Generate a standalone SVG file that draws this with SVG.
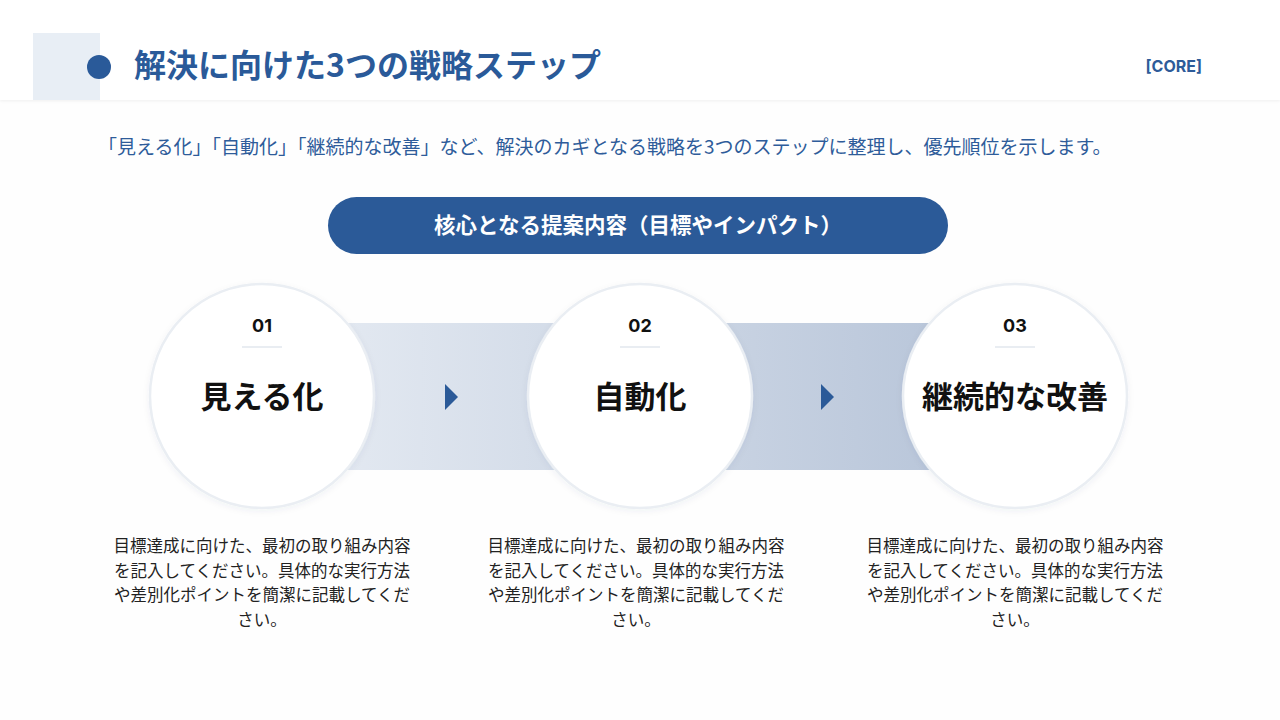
<svg xmlns="http://www.w3.org/2000/svg" width="1280" height="720" viewBox="0 0 1280 720">
  <defs>
    <linearGradient id="band" x1="0" y1="0" x2="1" y2="0">
      <stop offset="0" stop-color="#e8edf4"/>
      <stop offset="1" stop-color="#b4c2d7"/>
    </linearGradient>
    <filter id="sh" x="-20%" y="-20%" width="140%" height="140%">
      <feDropShadow dx="0" dy="2" stdDeviation="3" flood-color="#1e3a5f" flood-opacity="0.06"/>
    </filter>
    <filter id="hsh" x="-5%" y="-50%" width="110%" height="200%">
      <feDropShadow dx="0" dy="1" stdDeviation="1.5" flood-color="#000" flood-opacity="0.06"/>
    </filter>
    <style>
      .jp { font-family: "Noto Sans CJK JP", "Noto Sans", sans-serif; }
      .title { font-size: 32px; font-weight: 700; fill: #2a5a99; }
      .sub { font-size: 19px; fill: #2e5c9a; }
      .pilltxt { font-size: 21.5px; font-weight: 700; fill: #ffffff; }
      .circ { fill: #ffffff; stroke: #eaeef3; stroke-width: 2.5; }
      .num { font-family: Inter, "Noto Sans", sans-serif; font-size: 18px; font-weight: 700; fill: #111111; }
      .sep { stroke: #e9edf2; stroke-width: 2; }
      .name { font-size: 31px; font-weight: 700; fill: #111111; }
      .desc { font-size: 16.5px; fill: #222222; }
      .arrow { fill: #2b5a98; }
    </style>
  </defs>

  <rect x="0" y="0" width="1280" height="720" fill="#fefefe"/>

  <g id="header">
    <rect x="0" y="0" width="1280" height="100" fill="#ffffff" filter="url(#hsh)"/>
    <rect x="33" y="33" width="67" height="67" fill="#e8eef5"/>
    <circle cx="99" cy="67" r="12" fill="#2a5a99"/>
    <text class="jp title" x="134" y="77">解決に向けた3つの戦略ステップ</text>
    <text x="1202" y="72" text-anchor="end" font-family="Inter, 'Liberation Sans', sans-serif" font-size="16" font-weight="700" fill="#2d5b99">[CORE]</text>
  </g>

  <g id="subtitle">
    <text class="jp sub" x="98" y="154">「見える化」「自動化」「継続的な改善」など、解決のカギとなる戦略を3つのステップに整理し、優先順位を示します。</text>
  </g>

  <g id="core-pill">
    <rect x="328" y="197" width="620" height="57" rx="28.5" fill="#2b5a98"/>
    <text class="jp pilltxt" x="638" y="233" text-anchor="middle">核心となる提案内容（目標やインパクト）</text>
  </g>

  <g id="connectors">
    <rect x="262" y="323" width="753" height="147" fill="url(#band)"/>
    <path class="arrow" d="M445,384 L458,397 L445,410 Z"/>
    <path class="arrow" d="M821,384 L834,397 L821,410 Z"/>
  </g>

  <g id="step1">
    <circle class="circ" cx="262" cy="396" r="112" filter="url(#sh)"/>
    <text class="num" x="262" y="332" text-anchor="middle">01</text>
    <line class="sep" x1="242" y1="347" x2="282" y2="347"/>
    <text class="jp name" x="262" y="408" text-anchor="middle">見える化</text>
    <g class="jp desc" text-anchor="middle">
      <text x="262" y="552">目標達成に向けた、最初の取り組み内容</text>
      <text x="262" y="577">を記入してください。具体的な実行方法</text>
      <text x="262" y="601">や差別化ポイントを簡潔に記載してくだ</text>
      <text x="262" y="626">さい。</text>
    </g>
  </g>

  <g id="step2">
    <circle class="circ" cx="640" cy="396" r="112" filter="url(#sh)"/>
    <text class="num" x="640" y="332" text-anchor="middle">02</text>
    <line class="sep" x1="620" y1="347" x2="660" y2="347"/>
    <text class="jp name" x="640" y="408" text-anchor="middle">自動化</text>
    <g class="jp desc" text-anchor="middle">
      <text x="636" y="552">目標達成に向けた、最初の取り組み内容</text>
      <text x="636" y="577">を記入してください。具体的な実行方法</text>
      <text x="636" y="601">や差別化ポイントを簡潔に記載してくだ</text>
      <text x="636" y="626">さい。</text>
    </g>
  </g>

  <g id="step3">
    <circle class="circ" cx="1015" cy="396" r="112" filter="url(#sh)"/>
    <text class="num" x="1015" y="332" text-anchor="middle">03</text>
    <line class="sep" x1="995" y1="347" x2="1035" y2="347"/>
    <text class="jp name" x="1015" y="408" text-anchor="middle">継続的な改善</text>
    <g class="jp desc" text-anchor="middle">
      <text x="1015" y="552">目標達成に向けた、最初の取り組み内容</text>
      <text x="1015" y="577">を記入してください。具体的な実行方法</text>
      <text x="1015" y="601">や差別化ポイントを簡潔に記載してくだ</text>
      <text x="1015" y="626">さい。</text>
    </g>
  </g>
</svg>
